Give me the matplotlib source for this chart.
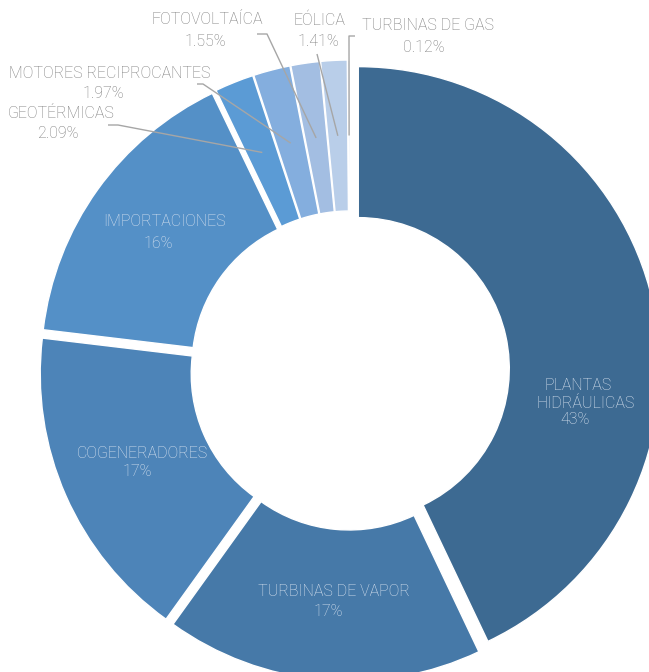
import numpy as np
import matplotlib
matplotlib.use("Agg")
import matplotlib.pyplot as plt

# ---- data ----
categories = ["PLANTAS HIDRÁULICAS", "TURBINAS DE VAPOR", "COGENERADORES", "IMPORTACIONES",
              "GEOTÉRMICAS", "MOTORES RECIPROCANTES", "FOTOVOLTAÍCA", "EÓLICA", "TURBINAS DE GAS"]
values = [43, 17, 17, 16, 2.09, 1.97, 1.55, 1.41, 0.12]
pct_labels = ["43%", "17%", "17%", "16%", "2.09%", "1.97%", "1.55%", "1.41%", "0.12%"]
colors = ["#3d6a92", "#4679a8", "#4d84b8", "#5490c7", "#5b9bd5",
          "#84aede", "#a3bee2", "#b9cee9", "#dbe5f4"]

W, H = 649, 672
fig = plt.figure(figsize=(W / 100, H / 100), dpi=100)
ax = fig.add_axes([0, 0, 1, 1])

cx, cy_img, R = 350, 370.5, 302
center = (cx, H - cy_img)
explode = [8.5] * len(values)   # absolute offset in data units (pixels)

wedges, _ = ax.pie(values, startangle=90, counterclock=False, center=center, radius=R,
                   explode=explode, colors=colors,
                   wedgeprops=dict(width=R * 0.5, edgecolor="white", linewidth=1.0))
ax.set_xlim(0, W)
ax.set_ylim(0, H)
ax.axis("off")

font = dict(family=["Roboto", "DejaVu Sans"], fontweight="light", fontsize=11.5)
inside_col = "#dce5f1"
outside_col = "#7a7a7a"

def P(x, y):
    return (x, H - y)

inside = {
    0: ([("PLANTAS", 578, 385), ("HIDRÁULICAS", 586, 403)], (575, 420)),
    1: ([("TURBINAS DE VAPOR", 334, 592)], (328, 612)),
    2: ([("COGENERADORES", 142, 453)], (137, 472)),
    3: ([("IMPORTACIONES", 164, 222)], (158, 243)),
}
for i, (lines, ppos) in inside.items():
    for txt, x, y in lines:
        ax.text(*P(x, y), txt, ha="center", va="center", color=inside_col, **font)
    ax.text(*P(*ppos), pct_labels[i], ha="center", va="center", color=inside_col, **font)

outside = {
    4: ((61, 114), (58, 133), [(108, 125), (118, 125)]),
    5: ((110, 73), (103, 93), [(197, 84), (203, 84)]),
    6: ((207, 20), (205, 42), [(257, 34), (267, 34)]),
    7: ((319, 20), (318, 42), [(317, 54)]),
    8: ((428, 26), (424, 47), [(355, 36), (349, 36)]),
}
for i, (npos, ppos, pts) in outside.items():
    ax.text(*P(*npos), categories[i], ha="center", va="center", color=outside_col, **font)
    ax.text(*P(*ppos), pct_labels[i], ha="center", va="center", color=outside_col, **font)
    w = wedges[i]
    mid = np.deg2rad((w.theta1 + w.theta2) / 2)
    ex = w.center[0] + 0.75 * R * np.cos(mid)
    ey = w.center[1] + 0.75 * R * np.sin(mid)
    xs = [p[0] for p in pts] + [ex]
    ys = [H - p[1] for p in pts] + [ey]
    ax.plot(xs, ys, color="#a6a6a6", lw=1.0, solid_capstyle="butt")

fig.savefig("out.png", dpi=100)
